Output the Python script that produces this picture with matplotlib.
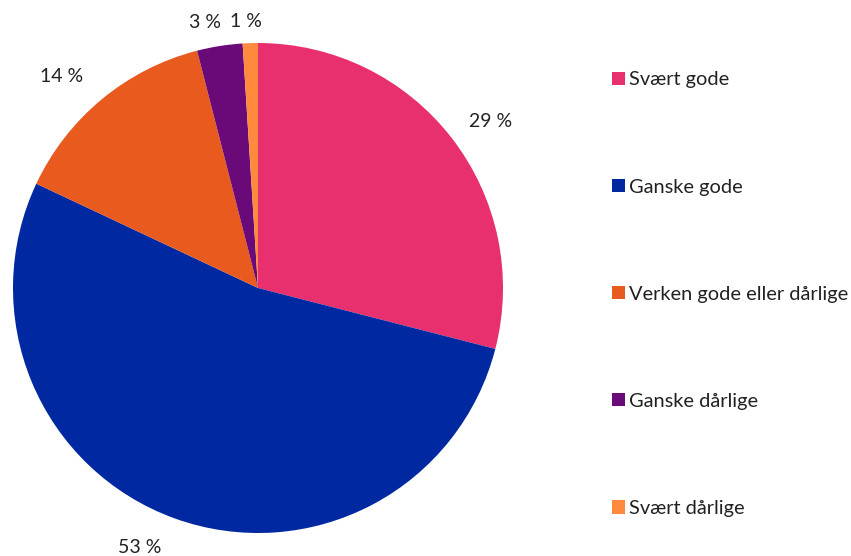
import matplotlib
matplotlib.use("Agg")
import numpy as np
import matplotlib.pyplot as plt
from matplotlib.patches import Patch

categories = ["Svært gode", "Ganske gode", "Verken gode eller dårlige", "Ganske dårlige", "Svært dårlige"]
values = [29, 53, 14, 3, 1]
labels = ["29 %", "53 %", "14 %", "3 %", "1 %"]
colors = ["#E8306F", "#0028A0", "#E85A1E", "#6A0A78", "#FF8A3D"]

# label placement style (radius multiples and angular nudges in degrees)
label_dist = [1.167, 1.162, 1.178, 1.107, 1.087]
label_nudge = [-2.1, -4.7, 3.2, 2.3, 0.8]

plt.rcParams['font.family'] = ['Lato', 'DejaVu Sans']

W, H = 851, 556
fig = plt.figure(figsize=(W / 100, H / 100), dpi=100)
cx, cy, r = 258, 288, 245
ax = fig.add_axes([(cx - r) / W, (H - cy - r) / H, 2 * r / W, 2 * r / H])
wedges, _ = ax.pie(values, colors=colors, startangle=90, counterclock=False,
                   radius=1, wedgeprops=dict(linewidth=0))
for w, lab, d, n in zip(wedges, labels, label_dist, label_nudge):
    ang = np.deg2rad((w.theta1 + w.theta2) / 2 + n)
    ax.text(d * np.cos(ang), d * np.sin(ang), lab, ha="center", va="center",
            fontsize=14, color="#222222", clip_on=False)
ax.set_xlim(-1, 1)
ax.set_ylim(-1, 1)
ax.set_aspect("equal")
ax.axis("off")

handles = [Patch(facecolor=c, edgecolor="none") for c in colors]
leg = fig.legend(handles, categories, loc="upper left",
                 bbox_to_anchor=(612 / W, 1 - 71.5 / H),
                 frameon=False, fontsize=14.4, handlelength=0.65, handleheight=0.65,
                 handletextpad=0.2, labelspacing=4.505, borderpad=0, borderaxespad=0)
for t in leg.get_texts():
    t.set_color("#222222")

fig.savefig("out.png", dpi=100)
